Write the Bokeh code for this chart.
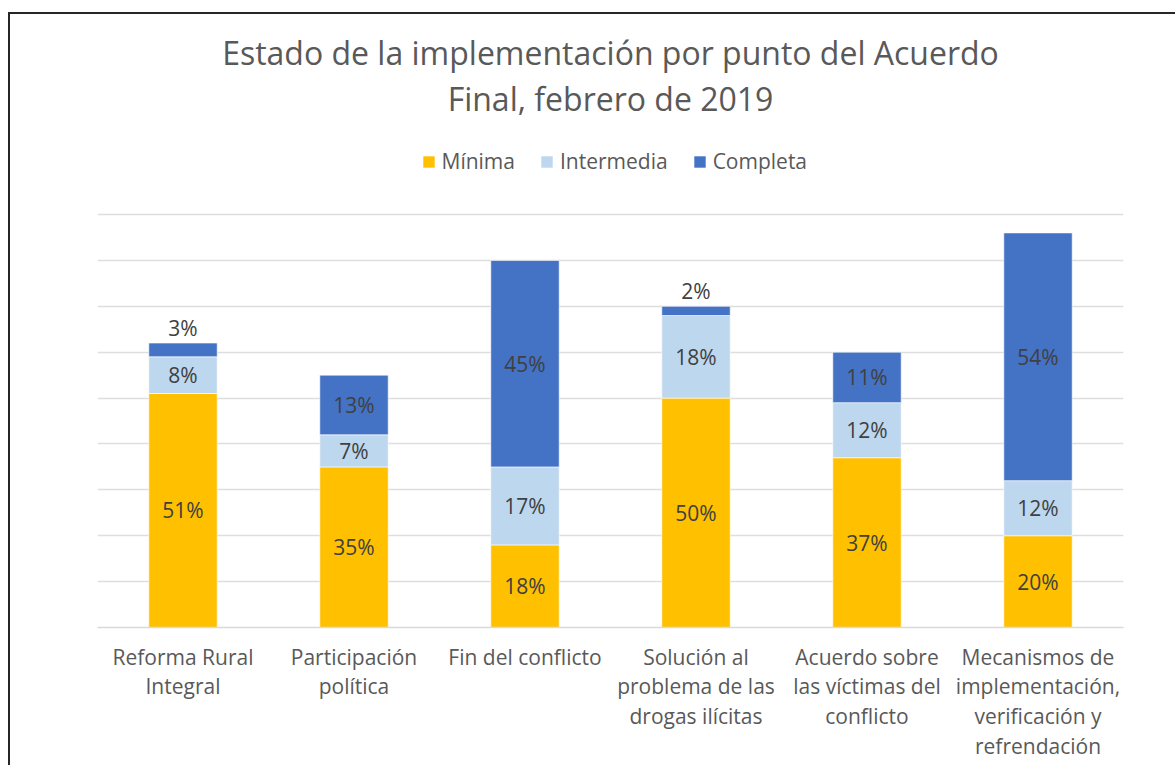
from bokeh.plotting import figure
from bokeh.layouts import column
from bokeh.models import (FactorRange, Range1d, FixedTicker, Grid, Label, Legend,
                          LegendItem, ColumnDataSource)
from bokeh.core.properties import value
from bokeh.embed import file_html
from bokeh.resources import INLINE

categories = ["Reforma Rural\nIntegral", "Participación\npolítica", "Fin del conflicto",
              "Solución al\nproblema de las\ndrogas ilícitas",
              "Acuerdo sobre\nlas víctimas del\nconflicto",
              "Mecanismos de\nimplementación,\nverificación y\nrefrendación"]
series = ["Mínima", "Intermedia", "Completa"]
minima = [51, 35, 18, 50, 37, 20]
intermedia = [8, 7, 17, 18, 12, 12]
completa = [3, 13, 45, 2, 11, 54]
grid_ticks = [10, 20, 30, 40, 50, 60, 70, 80, 90]
title_lines = ["Estado de la implementación por punto del Acuerdo", "Final, febrero de 2019"]

colors = ["#FFC000", "#BDD7EE", "#4472C4"]
FONT = "Open Sans"
TXT = "#595959"

p = figure(x_range=FactorRange(*categories), y_range=Range1d(0, 133.6),
           width=1165, height=751, output_backend="svg", toolbar_location=None,
           y_axis_location=None, min_border_left=87, min_border_right=52,
           min_border_top=0, min_border_bottom=138)
p.outline_line_color = None
p.xgrid.visible = False
p.ygrid.visible = False
p.add_layout(Grid(dimension=1, ticker=FixedTicker(ticks=grid_ticks),
                  grid_line_color="#DEDEDE", grid_line_width=1.5))

src = ColumnDataSource(dict(cat=categories, Mínima=minima, Intermedia=intermedia, Completa=completa))
rs = p.vbar_stack(series, x="cat", width=0.4, source=src, color=colors,
                  line_color="#FFFFFF", line_alpha=0.6, line_width=1)

# data labels
lx, ly, lt = [], [], []
for i, c in enumerate(categories):
    base = 0
    vals = [minima[i], intermedia[i], completa[i]]
    total = sum(vals)
    for v in vals:
        lx.append(c)
        if v < 5:
            ly.append(total + 3.3)
        else:
            ly.append(base + v / 2)
        lt.append(f"{v}%")
        base += v
p.text(x=lx, y=ly, text=lt, text_align="center", text_baseline="middle",
       text_font=value(FONT), text_font_size="21px", text_color="#404040")

ax = p.xaxis[0]
ax.axis_line_color = "#D9D9D9"
ax.axis_line_width = 1.5
ax.major_tick_line_color = None
ax.minor_tick_line_color = None
ax.major_label_text_font = FONT
ax.major_label_text_font_size = "21px"
ax.major_label_text_color = TXT
ax.major_label_standoff = 9
ax.major_label_text_line_height = 1.07

for t, yv in zip(title_lines, [125.3, 115.3]):
    p.add_layout(Label(x=3.0, y=yv, text=t, text_align="center", text_baseline="middle",
                       text_font=FONT, text_font_size="32px", text_color=TXT))

legend = Legend(items=[LegendItem(label=s, renderers=[r]) for s, r in zip(series, rs)],
                orientation="horizontal", location=(323.5, 452), glyph_width=15, glyph_height=15,
                label_text_font=FONT, label_text_font_size="21px", label_text_color=TXT,
                border_line_color=None, background_fill_alpha=0, padding=0, margin=0,
                spacing=24, label_standoff=6, label_height=20)
p.add_layout(legend, "center")

layout = column(p, styles={"border-left": "2px solid #262626", "border-top": "2px solid #262626",
                           "margin-top": "12px", "margin-left": "8px"})

open("out.html", "w").write(file_html(layout, INLINE))
